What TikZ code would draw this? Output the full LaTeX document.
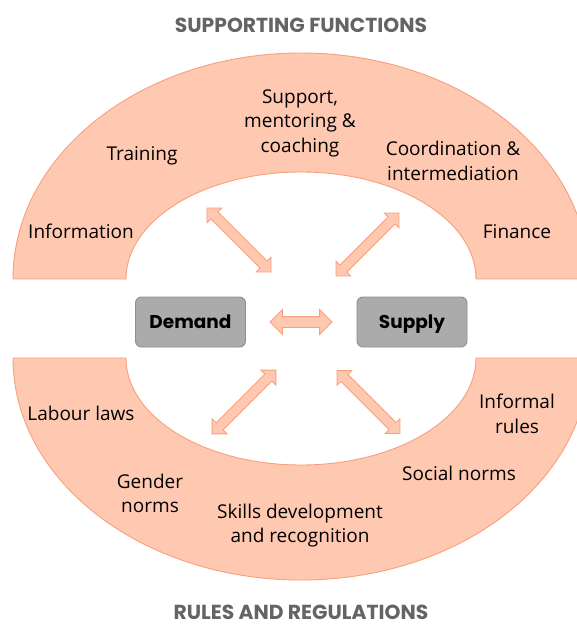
\documentclass[tikz,border=0pt]{standalone}
\usepackage{fontspec}
\setmainfont{Open Sans}
\newfontfamily\headfont{Poppins}
\usetikzlibrary{shapes.arrows}
\definecolor{archfill}{HTML}{FFC8B1}
\definecolor{archline}{HTML}{F8A07D}
\definecolor{boxfill}{HTML}{ABABAB}
\definecolor{boxline}{HTML}{8E8E8E}
\definecolor{headgray}{HTML}{646464}
\tikzset{
  arch/.style={fill=archfill, draw=archline, line width=0.9pt},
  lbl/.style={align=center, inner sep=0pt, text=black, font=\fontsize{19}{24.5}\selectfont},
  heading/.style={inner sep=0pt, anchor=base, text=headgray, font=\headfont\bfseries\fontsize{20.3}{24}\selectfont},
  market/.style={draw=boxline, fill=boxfill, line width=0.9pt, rounded corners=6pt,
    minimum width=110pt, minimum height=50pt, inner sep=0pt, text height=12.6pt, text depth=0pt,
    font=\headfont\bfseries\fontsize{18.5}{21}\selectfont},
  link/.style={shape=double arrow, draw=archline, fill=archfill, line width=0.9pt,
    inner xsep=0pt, inner ysep=4.5pt, double arrow head extend=5.5pt}
}
\begin{document}
\begin{tikzpicture}[x=1pt,y=-1pt]
\useasboundingbox (0,0) rectangle (577,626);
\clip (0,0) rectangle (577,626);
% upper arch
\path[arch] (13,279) arc[start angle=180, end angle=360, x radius=288, y radius=226]
  -- (476,279) arc[start angle=0, end angle=-180, x radius=175, y radius=107] -- cycle;
% lower arch
\path[arch] (13,358) arc[start angle=180, end angle=0, x radius=288, y radius=222]
  -- (476,358) arc[start angle=0, end angle=180, x radius=175, y radius=107] -- cycle;

\node[heading] (h1) at (301,33) {SUPPORTING FUNCTIONS};
\node[heading] (h2) at (301,619.5) {RULES AND REGULATIONS};

\node[lbl] (info) at (81,231) {Information};
\node[lbl] (train) at (142,156) {Training};
\node[lbl] (supp) at (300,123) {Support,\\mentoring \&\\coaching};
\node[lbl] (coord) at (453,161) {Coordination \&\\intermediation};
\node[lbl] (fin) at (517,232) {Finance};

\node[lbl] (labour) at (81,413) {Labour laws};
\node[lbl] (inf) at (517,414) {Informal\\rules};
\node[lbl] (social) at (459,473) {Social norms};
\node[lbl] (gender) at (150,493.5) {Gender\\norms};
\node[lbl] (skills) at (300,525.5) {Skills development\\and recognition};

\node[market] (demand) at (190.5,322) {Demand};
\node[market] (supply) at (412,322) {Supply};

\node[link, minimum height=62pt, inner ysep=5pt, double arrow head extend=7pt] (ah) at (301,322) {};
\node[link, minimum height=90.5pt, rotate=-45] (atl) at (239,240) {};
\node[link, minimum height=89pt, rotate=45] (atr) at (367.5,244.5) {};
\node[link, minimum height=90pt, rotate=45] (abl) at (244,402) {};
\node[link, minimum height=89pt, rotate=-45] (abr) at (368.5,402) {};
\end{tikzpicture}
\end{document}
